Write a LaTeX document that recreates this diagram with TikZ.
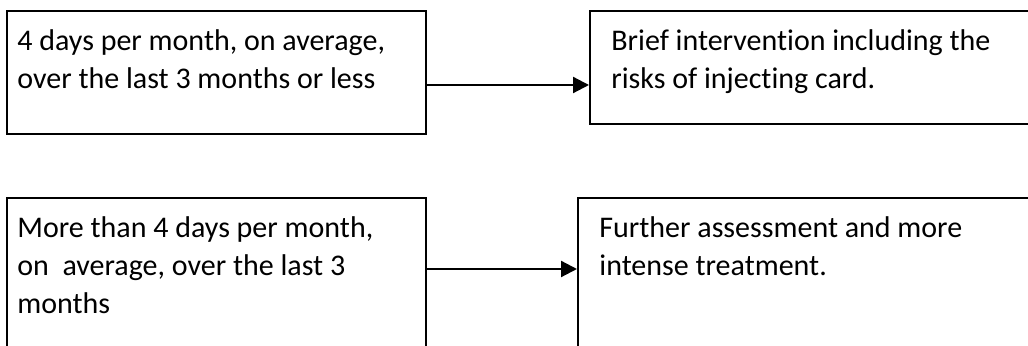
\documentclass[tikz,border=0pt]{standalone}
\usepackage{fontspec}
\setmainfont{Carlito}[Ligatures=NoCommon]
\usetikzlibrary{arrows.meta,positioning}

\begin{document}
\begin{tikzpicture}[x=0.5pt,y=-0.5pt,
  font=\fontsize{15pt}{19pt}\selectfont,
  bx/.style={draw=black,line width=1pt,anchor=north west,inner sep=0pt},
  txt/.style={anchor=north west,align=left,inner sep=0pt},
  ar/.style={-{Triangle[length=8pt,width=8pt]},line width=1.1pt,draw=black}]

\useasboundingbox (0,0) rectangle (1028,346);
\clip (0,0) rectangle (1028,346);

% left column
\node[bx,minimum width=209.5pt,minimum height=61.5pt] (mild) at (6,10) {};
\node[bx,minimum width=209.5pt,minimum height=85pt] (more) at (6,197) {};
% right column
\node[bx,minimum width=225.5pt,minimum height=56.5pt] (brief) at (589,10) {};
\node[bx,minimum width=231.5pt,minimum height=85pt] (further) at (577,197) {};

\node[txt] (mildtxt) at ([xshift=5.5pt,yshift=-9.5pt]mild.north west)
  {4 days per month, on average,\\over the last 3 months or less};
\node[txt] (moretxt) at ([xshift=5.5pt,yshift=-9.5pt]more.north west)
  {More than 4 days per month,\\on~~average, over the last 3\\months};
\node[txt] (brieftxt) at ([xshift=11pt,yshift=-9.5pt]brief.north west)
  {Brief intervention including the\\risks of injecting card.};
\node[txt] (furthertxt) at ([xshift=11pt,yshift=-9.5pt]further.north west)
  {Further assessment and more\\intense treatment.};

\coordinate (rowa) at (0,85);
\coordinate (rowb) at (0,269);
\draw[ar] (mild.east |- rowa) -- (brief.west |- rowa);
\draw[ar] (more.east |- rowb) -- (further.west |- rowb);
\end{tikzpicture}
\end{document}
